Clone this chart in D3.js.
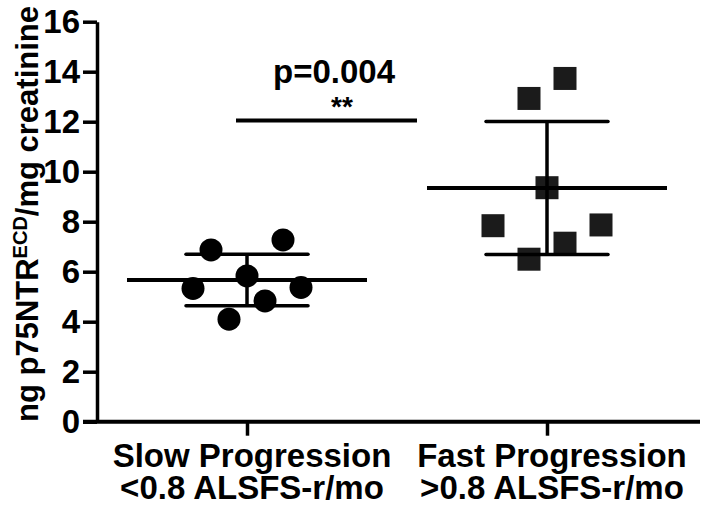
<!DOCTYPE html>
<html>
<head>
<meta charset="utf-8">
<script src="https://cdn.jsdelivr.net/npm/d3@7"></script>
<style>
  body { margin: 0; background: #fff; }
  text { font-family: "Liberation Sans", Arial, sans-serif; font-weight: bold; fill: #000; }
</style>
</head>
<body>
<div id="chart"></div>
<script>
// groups on the x axis
const groups = ["slow", "fast"];
const groupLabels = [
  ["Slow Progression", "<0.8 ALSFS-r/mo"],
  ["Fast Progression", ">0.8 ALSFS-r/mo"]
];

// individual patients (ng/mg creatinine)
const slowValues = [6.87, 7.27, 5.83, 5.33, 5.37, 4.83, 4.10];
const fastValues = [12.93, 13.73, 9.36, 7.84, 7.87, 7.14, 6.50];
// horizontal jitter column of each point
const slowColumns = [-2, 2, 0, -3, 3, 1, -1];
const fastColumns = [-1, 1, 0, -3, 3, 1, -1];

// mean and SD per group
const means = [5.67, 9.35];
const sds = [1.03, 2.66];

const yTicks = [0, 2, 4, 6, 8, 10, 12, 14, 16];
const pLabel = "p=0.004";
const starLabel = "**";
const bracketY = 12.05;

const width = 705, height = 508;
const margin = {top: 21.7, right: 5, bottom: 86.3, left: 97};

const svg = d3.select("#chart")
  .append("svg")
  .attr("width", width)
  .attr("height", height);

let x = d3.scalePoint()
  .domain(groups)
  .range([margin.left, 697])
  .padding(0.5);

let y = d3.scaleLinear()
  .domain([0, 16])
  .range([height - margin.bottom, margin.top]);

let jitter = d3.scaleLinear().domain([0, 1]).range([0, 18]);

// points first, lines drawn over them
let points = [];
slowValues.forEach((v, i) => points.push({g: "slow", v: v, c: slowColumns[i]}));
fastValues.forEach((v, i) => points.push({g: "fast", v: v, c: fastColumns[i]}));

svg.selectAll("circle.pt")
  .data(points.filter(d => d.g == "slow"))
  .enter()
  .append("circle")
  .attr("class", "pt")
  .attr("cx", d => x(d.g) + jitter(d.c))
  .attr("cy", d => y(d.v))
  .attr("r", 11.5)
  .style("fill", "#000");

const side = 23;
svg.selectAll("rect.pt")
  .data(points.filter(d => d.g == "fast"))
  .enter()
  .append("rect")
  .attr("class", "pt")
  .attr("x", d => x(d.g) + jitter(d.c) - side / 2)
  .attr("y", d => y(d.v) - side / 2)
  .attr("width", side)
  .attr("height", side)
  .style("fill", "#1b1b1b");

// mean and SD bars
let stats = groups.map((g, i) => ({g: g, mean: means[i], sd: sds[i]}));

let bars = svg.selectAll("g.stat")
  .data(stats)
  .enter()
  .append("g")
  .attr("class", "stat")
  .style("stroke", "#000");

bars.append("line")
  .attr("x1", d => x(d.g) - 120)
  .attr("x2", d => x(d.g) + 120)
  .attr("y1", d => y(d.mean))
  .attr("y2", d => y(d.mean))
  .style("stroke-width", 4);

bars.append("line")
  .attr("x1", d => x(d.g))
  .attr("x2", d => x(d.g))
  .attr("y1", d => y(d.mean + d.sd))
  .attr("y2", d => y(d.mean - d.sd))
  .style("stroke-width", 3.5);

bars.selectAll("line.cap")
  .data(d => [{g: d.g, v: d.mean + d.sd}, {g: d.g, v: d.mean - d.sd}])
  .enter()
  .append("line")
  .attr("class", "cap")
  .attr("x1", d => x(d.g) - 61)
  .attr("x2", d => x(d.g) + 61)
  .attr("y1", d => y(d.v))
  .attr("y2", d => y(d.v))
  .style("stroke-width", 3.5)
  .style("stroke-linecap", "round");

// axes
let yAxis = svg.append("g")
  .attr("transform", "translate(" + margin.left + ",0)")
  .call(d3.axisLeft(y).tickValues(yTicks).tickSize(14).tickSizeOuter(0).tickPadding(3));

yAxis.select(".domain").style("stroke-width", 3.5);
yAxis.selectAll(".tick line").style("stroke-width", 3.5);
yAxis.selectAll("text")
  .style("font-size", "33px")
  .style("font-family", "'Liberation Sans', Arial, sans-serif")
  .style("font-weight", "bold")
  .style("fill", "#000");

let xAxis = svg.append("g")
  .attr("transform", "translate(0," + y(0) + ")")
  .call(d3.axisBottom(x).tickSize(14).tickSizeOuter(0).tickFormat(""));

xAxis.select(".domain")
  .attr("d", "M" + (margin.left - 14) + ",0H" + (width - margin.right))
  .style("stroke-width", 4);
xAxis.selectAll(".tick line").style("stroke-width", 3.5);

let labels = svg.selectAll("text.xlab")
  .data(groups)
  .enter()
  .append("text")
  .attr("class", "xlab")
  .attr("text-anchor", "middle")
  .style("font-size", "33px");

labels.selectAll("tspan")
  .data((d, i) => groupLabels[i].map(t => ({g: d, t: t})))
  .enter()
  .append("tspan")
  .attr("x", d => x(d.g) + 5)
  .attr("y", (d, i) => 467 + i * 32)
  .text(d => d.t);

// y axis title
let title = svg.append("text")
  .attr("transform", "translate(38," + 214 + ") rotate(-90)")
  .attr("text-anchor", "middle")
  .style("font-size", "31px");
title.append("tspan").text("ng p75NTR");
title.append("tspan").attr("dy", -11).style("font-size", "20px").text("ECD");
title.append("tspan").attr("dy", 11).text("/mg creatinine");

// significance
svg.append("line")
  .attr("x1", 236)
  .attr("x2", 417)
  .attr("y1", y(bracketY))
  .attr("y2", y(bracketY))
  .style("stroke", "#000")
  .style("stroke-width", 4);

svg.append("text")
  .attr("x", 334)
  .attr("y", 83)
  .attr("text-anchor", "middle")
  .style("font-size", "33px")
  .text(pLabel);

svg.append("text")
  .attr("x", 342)
  .attr("y", 116)
  .attr("text-anchor", "middle")
  .style("font-size", "28px")
  .text(starLabel);
</script>
</body>
</html>
